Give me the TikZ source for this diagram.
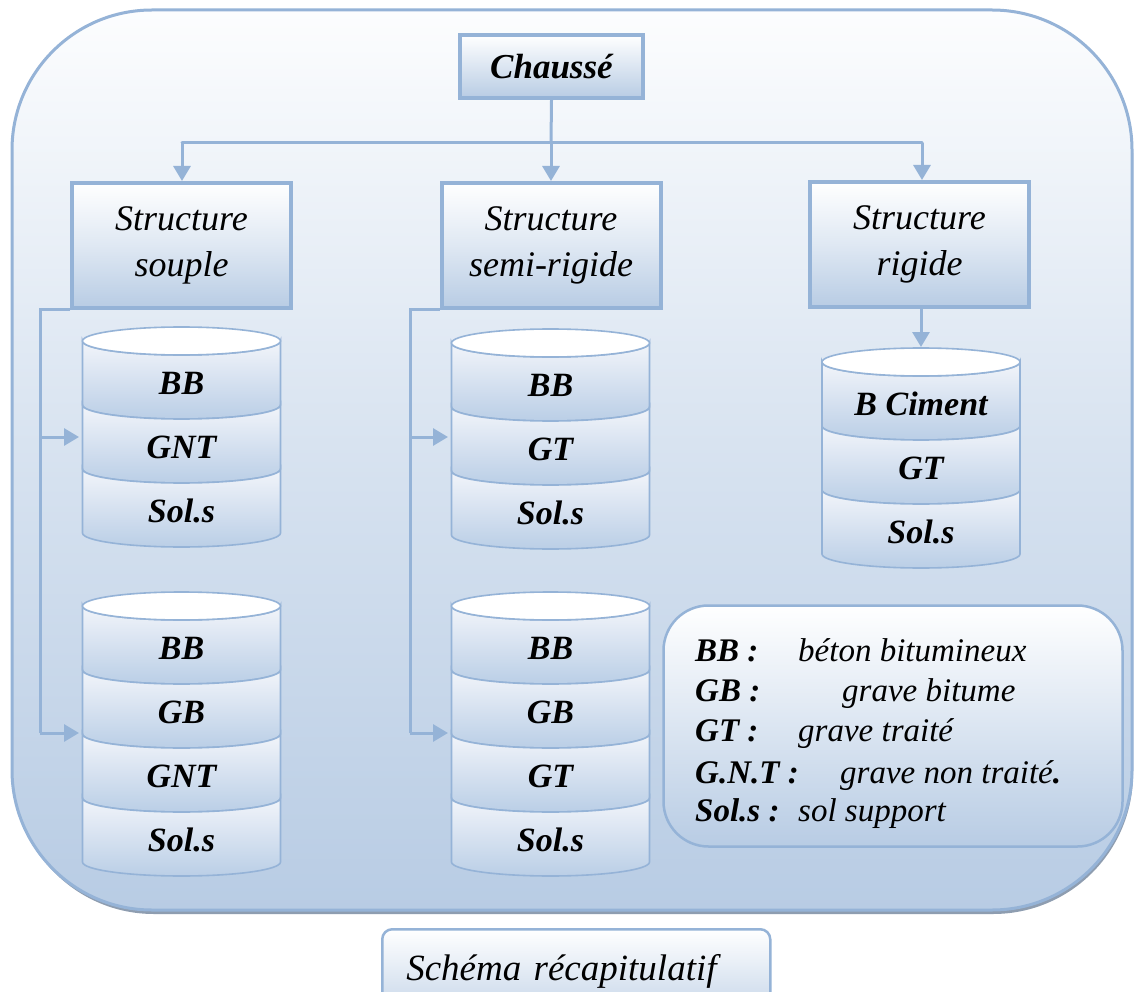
\documentclass[tikz,border=0pt]{standalone}
\usepackage{fontspec}
\setmainfont{Liberation Serif}
\usetikzlibrary{arrows.meta}
\definecolor{bcol}{HTML}{95B3D7}
\definecolor{ftop}{HTML}{FCFDFE}
\definecolor{fbot}{HTML}{B8CCE4}
\definecolor{ctop}{HTML}{F2F5FA}
\definecolor{cbot}{HTML}{BACEE6}
\definecolor{shad}{HTML}{8E9DB0}

\newcommand\mycylinder[4]{% #1 prefix, #2 xc, #3 y of top ellipse centre, #4 labels
  \foreach \lab [count=\i] in {#4} {
    \pgfmathsetmacro\ya{#3+(\i-1)*64}
    \pgfmathsetmacro\yb{#3+\i*64}
    \path[draw=bcol, line width=1.6pt, top color=ctop, bottom color=cbot]
      (#2-99,-\ya) arc[start angle=180, end angle=360, x radius=99, y radius=14]
      -- (#2+99,-\yb) arc[start angle=0, end angle=-180, x radius=99, y radius=14] -- cycle;
    \node[lab] (#1\i) at (#2,-\ya-42) {\lab};
  }
  \draw[draw=bcol, line width=1.6pt, fill=white] (#2,-#3) ellipse[x radius=99, y radius=14];
}

\begin{document}
\begin{tikzpicture}[x=1pt,y=1pt,
  conn/.style={draw=bcol, line width=3pt, line cap=round},
  arr/.style={draw=bcol, line width=3pt, -{Triangle[length=15pt,width=17pt]}},
  sbox/.style={draw=bcol, line width=4pt, top color=white, bottom color=fbot, middle color=white!55!fbot,
    minimum width=219pt, minimum height=125pt, align=center, inner sep=0pt,
    font=\fontsize{36}{46}\selectfont\itshape},
  lab/.style={inner sep=0pt, font=\fontsize{34}{40}\selectfont\bfseries\itshape},
  leg/.style={inner sep=0pt, anchor=base west, font=\fontsize{33}{38}\selectfont\bfseries\itshape},
  legd/.style={inner sep=0pt, anchor=base west, font=\fontsize{33}{38}\selectfont\itshape}
]
\useasboundingbox (0,0) rectangle (1135,-992);
\clip (0,0) rectangle (1135,-992);
\fill[white] (0,0) rectangle (1135,-992);

% outer panel with shadow
\fill[shad, rounded corners=140pt] (14,-14) rectangle (1133,-914);
\path[draw=bcol, line width=3pt, top color=ftop, bottom color=fbot, middle color=ftop!45!fbot, rounded corners=140pt]
  (12,-10) rectangle (1132,-910);

% top box
\node[draw=bcol, line width=4pt, top color=white, bottom color=fbot, minimum width=183pt, minimum height=63pt,
  inner sep=0pt, font=\fontsize{35}{40}\selectfont\bfseries\itshape] (ch) at (551.5,-66.5) {Chaussé};

% structure boxes
\node[sbox] (souple) at (181.5,-245.5) {Structure\\souple};
\node[sbox] (semi) at (551,-245.5) {Structure\\semi-rigide};
\node[sbox] (rig) at (919.5,-244.5) {Structure\\rigide};

% top connectors
\coordinate (hL) at (182,-143);
\coordinate (hM) at (551,-143);
\coordinate (hR) at (922,-143);
\draw[conn] (hL) -- (hR);
\draw[conn] (ch.south) -- (hM);
\draw[arr] (hL) -- (souple.north -| hL);
\draw[arr] (hM) -- (semi.north);
\draw[arr] (hR) -- (rig.north -| hR);

% cylinders
\mycylinder{A}{181.5}{341}{BB,GNT,Sol.s}
\mycylinder{B}{181.5}{606}{BB,GB,GNT,Sol.s}
\mycylinder{C}{550.5}{343}{BB,GT,Sol.s}
\mycylinder{D}{550.5}{606}{BB,GB,GT,Sol.s}
\mycylinder{E}{921}{362}{B Ciment,GT,Sol.s}

% left connectors
\coordinate (jA) at (40,-310);
\coordinate (jB) at (40,-733);
\coordinate (kA) at (40,-437);
\coordinate (tA) at (79,-437);
\coordinate (tB) at (79,-733);
\draw[conn, line cap=butt] (souple.south west) -- (jA) -- (jB);
\draw[arr] (kA) -- (tA);
\draw[arr] (jB) -- (tB);

\coordinate (jC) at (410,-310);
\coordinate (jD) at (410,-733);
\coordinate (kC) at (410,-437);
\coordinate (tC) at (448,-437);
\coordinate (tD) at (448,-733);
\draw[conn, line cap=butt] (semi.south west) -- (jC) -- (jD);
\draw[arr] (kC) -- (tC);
\draw[arr] (jD) -- (tD);

\coordinate (tE) at (921,-347);
\draw[arr] (rig.south -| tE) -- (tE);

% legend
\node[draw=bcol, line width=2.5pt, top color=white, bottom color=fbot, rounded corners=45pt,
  minimum width=459pt, minimum height=241pt] (legend) at (893,-726) {};
\node[leg] (l1) at (695,-661) {BB :};
\node[legd] (d1) at (798,-661) {béton bitumineux};
\node[leg] (l2) at (695,-701) {GB :};
\node[legd] (d2) at (842,-701) {grave bitume};
\node[leg] (l3) at (695,-741) {GT :};
\node[legd] (d3) at (798,-741) {grave traité};
\node[leg] (l4) at (695,-783) {G.N.T :};
\node[legd] (d4) at (840,-783) {grave non traité\textbf{.}};
\node[leg] (l5) at (695,-821) {Sol.s :};
\node[legd] (d5) at (798,-821) {sol support};

% caption
\node[draw=bcol, line width=2.5pt, top color=white, bottom color=fbot!80!white, rounded corners=10pt,
  anchor=north west, text width=340pt, align=left, inner xsep=24pt, minimum height=84pt,
  font=\fontsize{37}{42}\selectfont\itshape] (cap) at (381,-928) {Schéma récapitulatif};
\end{tikzpicture}
\end{document}
